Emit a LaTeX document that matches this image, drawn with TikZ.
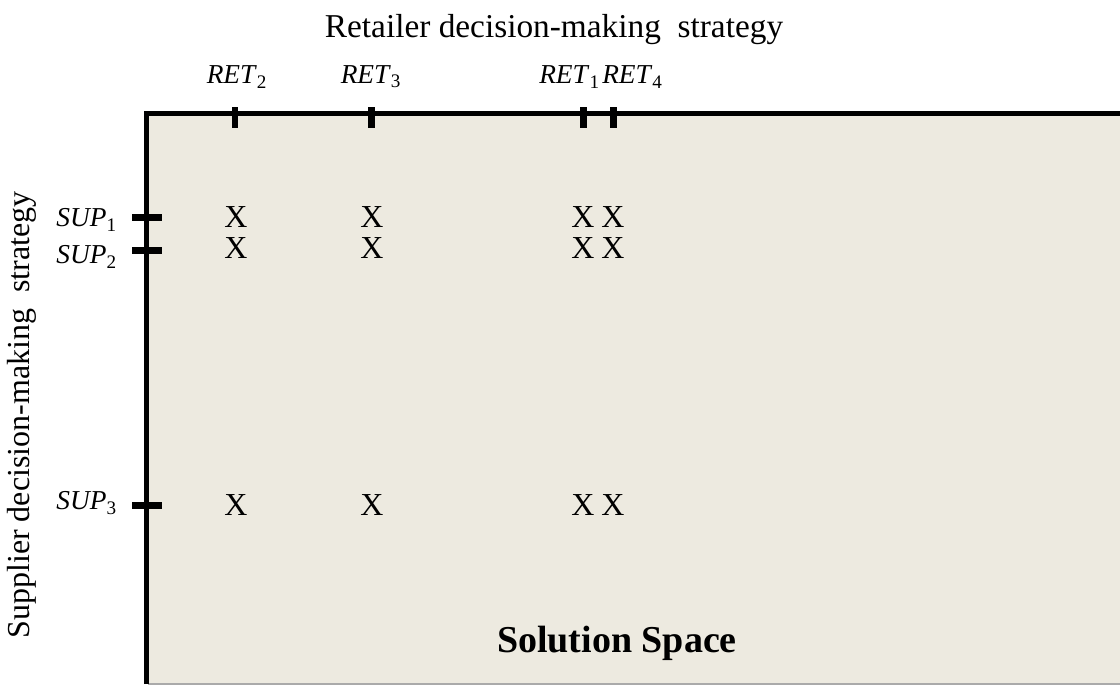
\documentclass[tikz,border=0pt]{standalone}
\usepackage{fontspec}
\setmainfont{Liberation Serif}
\usetikzlibrary{positioning}
\definecolor{spacefill}{RGB}{237,234,224}
\definecolor{edgegray}{RGB}{170,170,170}

\begin{document}
\begin{tikzpicture}[x=0.75pt, y=-0.75pt,
    axistick/.style={line width=5.2pt},
    axisline/.style={line width=3.9pt, line join=miter},
    lbl/.style={inner sep=0pt, font=\fontsize{20.5}{24}\selectfont\itshape},
    xmark/.style={inner sep=0pt, font=\fontsize{24}{26}\selectfont}]
    \useasboundingbox (0,0) rectangle (1120,686);

    % Espacio de soluciones
    \fill[spacefill] (148,114) rectangle (1120,684);
    \draw[edgegray, line width=0.8pt] (148,684) -- (1120,684);
    \draw[axisline] (146.5,684) -- (146.5,113.5) -- (1120,113.5);

    % Marcas superiores
    \foreach \name/\x in {tr2/235, tr3/371.5, tr1/583.5, tr4/613.5}
        \draw[axistick] (\x,107) -- (\x,128) coordinate (\name);

    % Marcas izquierdas
    \foreach \name/\y in {ts1/217.5, ts2/250.5, ts3/505.5}
        \draw[axistick] (132,\y) coordinate (\name) -- (162,\y);

    % Etiquetas
    \node[lbl] (ret2) at (237,77) {RET\textup{\textsubscript{2}}};
    \node[lbl] (ret3) at (371,77) {RET\textup{\textsubscript{3}}};
    \node[lbl, anchor=east] (ret1) at (600,77) {RET\textup{\textsubscript{1}}};
    \node[lbl, anchor=west] (ret4) at (602,77) {RET\textup{\textsubscript{4}}};
    \node[lbl, anchor=east] (sup1) at (117,220) {SUP\textup{\textsubscript{1}}};
    \node[lbl, anchor=east] (sup2) at (117,257) {SUP\textup{\textsubscript{2}}};
    \node[lbl, anchor=east] (sup3) at (117,503) {SUP\textup{\textsubscript{3}}};

    % Soluciones
    \foreach \x in {236,372,583,613}
        \foreach \y in {217,248,505}
            \node[xmark] (x-\x-\y) at (\x,\y) {X};

    % Titulos
    \node[font=\fontsize{25}{30}\selectfont] (rettitle) at (554,30)
        {Retailer decision-making\ \ strategy};
    \node[font=\fontsize{24}{29}\selectfont, rotate=90] (suptitle) at (22,415)
        {Supplier decision-making\ \ strategy};
    \node[font=\fontsize{28.5}{34}\selectfont\bfseries] (space) at (617,643)
        {Solution Space};

\end{tikzpicture}
\end{document}
